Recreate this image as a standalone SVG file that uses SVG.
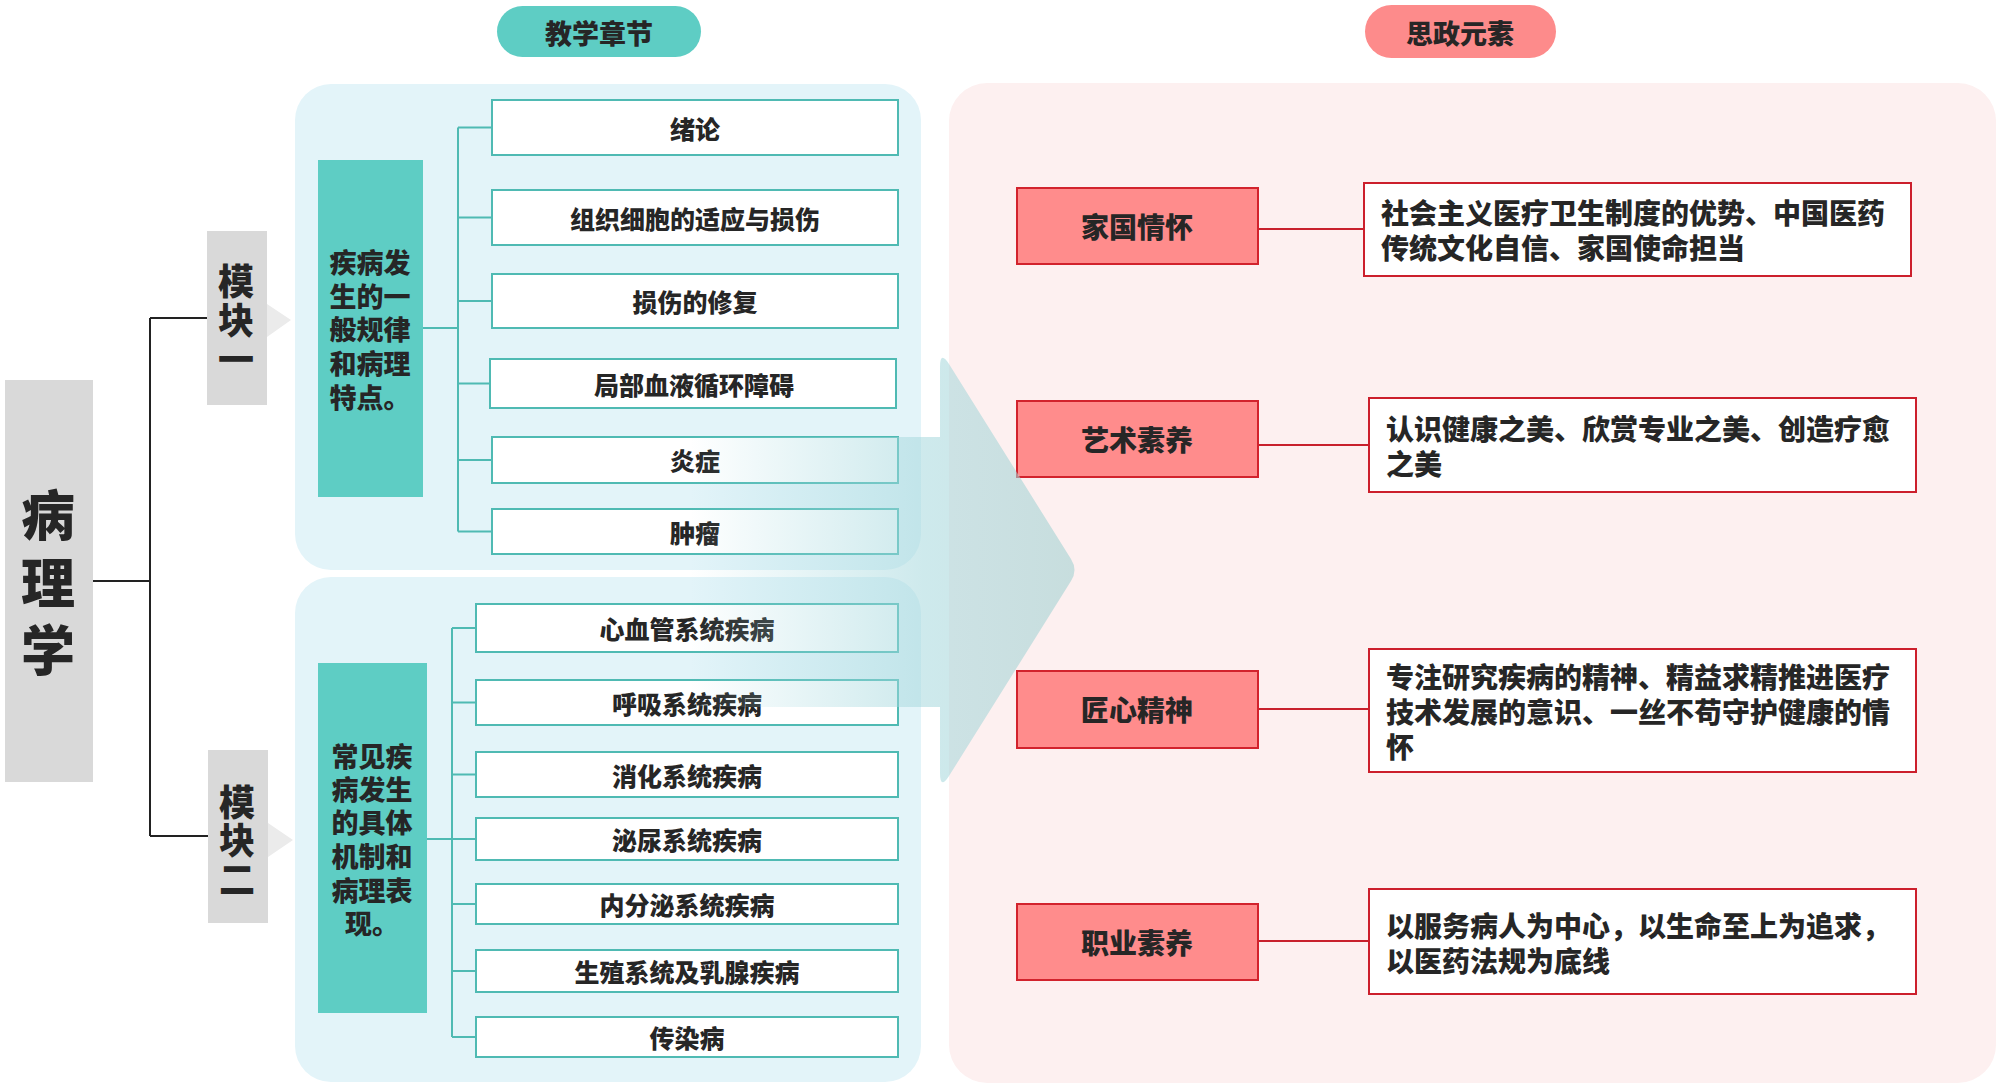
<svg xmlns="http://www.w3.org/2000/svg" width="2000" height="1090" viewBox="0 0 2000 1090">
<defs>
<style>
text{font-family:"Noto Sans CJK SC","Noto Sans",sans-serif;font-weight:900;fill:#262626;dominant-baseline:central}
.mid{text-anchor:middle}
.gray{fill:#d9d9d9}
.tri{fill:#ebebeb}
.teal{fill:#5ecdc4}
.item{fill:#ffffff;stroke:#4fbab3;stroke-width:2}
.it{font-size:25px;text-anchor:middle}
.tb{font-size:27px;text-anchor:middle}
.pk{fill:#ff8c8c;stroke:#d2232d;stroke-width:2}
.ds{fill:#ffffff;stroke:#cc1f2c;stroke-width:2}
.dt{font-size:28px}
.blk{stroke:#222;stroke-width:2;fill:none}
.tl{stroke:#4fbab3;stroke-width:2;fill:none}
.rd{stroke:#c8202c;stroke-width:2;fill:none}
</style>
<linearGradient id="arr" gradientUnits="userSpaceOnUse" x1="690" y1="0" x2="1078" y2="0">
<stop offset="0" stop-color="#9fd8df" stop-opacity="0"/>
<stop offset="0.6" stop-color="#a6d8dd" stop-opacity="0.55"/>
<stop offset="1" stop-color="#a3d1d1" stop-opacity="0.6"/>
</linearGradient>
</defs>
<rect width="2000" height="1090" fill="#ffffff"/>

<g id="panels">
<rect x="295" y="84" width="626" height="486" rx="36" fill="#e3f4f9"/>
<rect x="295" y="577" width="626" height="505" rx="36" fill="#e3f4f9"/>
<rect x="949" y="83" width="1047" height="1000" rx="38" fill="#fdf0f0"/>
</g>

<g id="header-left">
<rect x="497" y="6" width="204" height="51" rx="25.5" fill="#5ecdc4"/>
<text class="mid" x="599" y="32" font-size="27">教学章节</text>
</g>
<g id="header-right">
<rect x="1365" y="5" width="191" height="53" rx="26.5" fill="#fd8b8b"/>
<text class="mid" x="1460" y="32" font-size="27">思政元素</text>
</g>

<g id="connectors">
<path class="blk" d="M93,581 H150 M150,318 V836 M150,318 H207 M150,836 H208"/>
<path class="tl" d="M423,328 H458 M458,127.5 V531.5 M458,127.5 H492 M458,217.5 H492 M458,301 H492 M458,383.5 H490 M458,460 H492 M458,531.5 H492"/>
<path class="tl" d="M427,839 H452 M452,628 V1037 M452,628 H476 M452,702.5 H476 M452,774.5 H476 M452,839 H476 M452,904 H476 M452,971 H476 M452,1037 H476"/>
<path class="rd" d="M1258,229 H1364 M1258,445 H1369 M1258,709 H1369 M1258,941 H1369"/>
</g>

<g id="root">
<rect class="gray" x="5" y="380" width="88" height="402"/>
<text class="mid" x="48" font-size="54"><tspan x="48" y="512">病</tspan><tspan x="48" y="580">理</tspan><tspan x="48" y="647">学</tspan></text>
</g>

<g id="module1">
<rect class="gray" x="207" y="231" width="60" height="174"/>
<polygon class="tri" points="267,304 291,320 267,337"/>
<text class="mid" font-size="36"><tspan x="236" y="279">模</tspan><tspan x="236" y="318">块</tspan><tspan x="236" y="357">一</tspan></text>
</g>
<g id="module2">
<rect class="gray" x="208" y="750" width="60" height="173"/>
<polygon class="tri" points="268,823 293,840 268,857"/>
<text class="mid" font-size="36"><tspan x="237" y="800">模</tspan><tspan x="237" y="838">块</tspan><tspan x="237" y="877">二</tspan></text>
</g>

<g id="topic1">
<rect class="teal" x="318" y="160" width="105" height="337"/>
<text class="tb"><tspan x="370" y="261">疾病发</tspan><tspan x="370" y="295">生的一</tspan><tspan x="370" y="328">般规律</tspan><tspan x="370" y="362">和病理</tspan><tspan x="370" y="396">特点。</tspan></text>
</g>
<g id="topic2">
<rect class="teal" x="318" y="663" width="109" height="350"/>
<text class="tb"><tspan x="372" y="755">常见疾</tspan><tspan x="372" y="788">病发生</tspan><tspan x="372" y="821">的具体</tspan><tspan x="372" y="855">机制和</tspan><tspan x="372" y="889">病理表</tspan><tspan x="372" y="922">现。</tspan></text>
</g>

<g id="m1-items">
<g id="i1"><rect class="item" x="492" y="100" width="406" height="55"/><text class="it" x="695" y="127.5">绪论</text></g>
<g id="i2"><rect class="item" x="492" y="190" width="406" height="55"/><text class="it" x="695" y="217.5">组织细胞的适应与损伤</text></g>
<g id="i3"><rect class="item" x="492" y="274" width="406" height="54"/><text class="it" x="695" y="301">损伤的修复</text></g>
<g id="i4"><rect class="item" x="490" y="359" width="406" height="49"/><text class="it" x="694" y="383.5">局部血液循环障碍</text></g>
<g id="i5"><rect class="item" x="492" y="437" width="406" height="46"/><text class="it" x="695" y="460">炎症</text></g>
<g id="i6"><rect class="item" x="492" y="509" width="406" height="45"/><text class="it" x="695" y="531.5">肿瘤</text></g>
</g>

<g id="m2-items">
<g id="j1"><rect class="item" x="476" y="604" width="422" height="48"/><text class="it" x="687" y="628">心血管系统疾病</text></g>
<g id="j2"><rect class="item" x="476" y="680" width="422" height="45"/><text class="it" x="687" y="702.5">呼吸系统疾病</text></g>
<g id="j3"><rect class="item" x="476" y="752" width="422" height="45"/><text class="it" x="687" y="774.5">消化系统疾病</text></g>
<g id="j4"><rect class="item" x="476" y="818" width="422" height="42"/><text class="it" x="687" y="839">泌尿系统疾病</text></g>
<g id="j5"><rect class="item" x="476" y="884" width="422" height="40"/><text class="it" x="687" y="904">内分泌系统疾病</text></g>
<g id="j6"><rect class="item" x="476" y="950" width="422" height="42"/><text class="it" x="687" y="971">生殖系统及乳腺疾病</text></g>
<g id="j7"><rect class="item" x="476" y="1017" width="422" height="40"/><text class="it" x="687" y="1037">传染病</text></g>
</g>

<g id="elements">
<g id="e1"><rect class="pk" x="1017" y="188" width="241" height="76"/><text class="mid" x="1137" y="226" font-size="28">家国情怀</text></g>
<g id="d1"><rect class="ds" x="1364" y="183" width="547" height="93"/><text class="dt"><tspan x="1381" y="212">社会主义医疗卫生制度的优势、中国医药</tspan><tspan x="1381" y="247">传统文化自信、家国使命担当</tspan></text></g>
<g id="e2"><rect class="pk" x="1017" y="401" width="241" height="76"/><text class="mid" x="1137" y="439" font-size="28">艺术素养</text></g>
<g id="d2"><rect class="ds" x="1369" y="398" width="547" height="94"/><text class="dt"><tspan x="1386" y="428">认识健康之美、欣赏专业之美、创造疗愈</tspan><tspan x="1386" y="463">之美</tspan></text></g>
<g id="e3"><rect class="pk" x="1017" y="671" width="241" height="77"/><text class="mid" x="1137" y="709" font-size="28">匠心精神</text></g>
<g id="d3"><rect class="ds" x="1369" y="649" width="547" height="123"/><text class="dt"><tspan x="1386" y="676">专注研究疾病的精神、精益求精推进医疗</tspan><tspan x="1386" y="711">技术发展的意识、一丝不苟守护健康的情</tspan><tspan x="1386" y="746">怀</tspan></text></g>
<g id="e4"><rect class="pk" x="1017" y="904" width="241" height="76"/><text class="mid" x="1137" y="942" font-size="28">职业素养</text></g>
<g id="d4"><rect class="ds" x="1369" y="889" width="547" height="105"/><text class="dt"><tspan x="1386" y="925">以服务病人为中心，以生命至上为追求，</tspan><tspan x="1386" y="960">以医药法规为底线</tspan></text></g>
</g>

<g id="big-arrow">
<path fill="url(#arr)" d="M690,437 H940 V367 Q940,350 949,364 L1071,559 Q1078,570 1071,581 L949,776 Q940,790 940,773 V707 H690 Z"/>
</g>
</svg>
